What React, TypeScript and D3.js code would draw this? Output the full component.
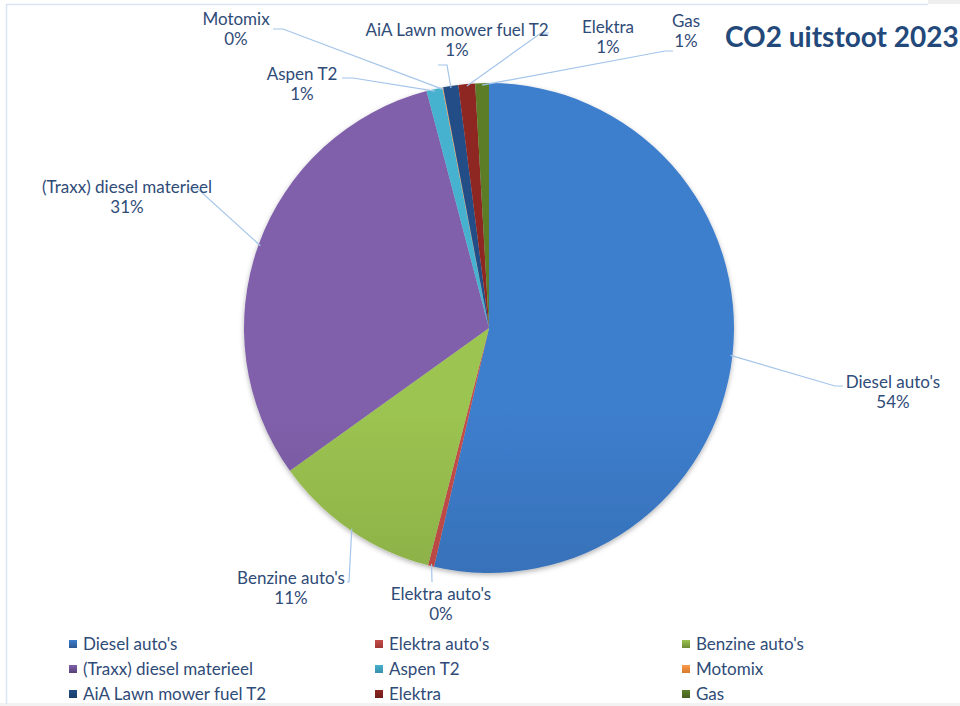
import React from "react";
import * as d3 from "d3";

const categories = [
  "Diesel auto's",
  "Elektra auto's",
  "Benzine auto's",
  "(Traxx) diesel materieel",
  "Aspen T2",
  "Motomix",
  "AiA Lawn mower fuel T2",
  "Elektra",
  "Gas",
];
const values = [53.6, 0.4, 11.1, 30.8, 1.05, 0.05, 1.0, 1.1, 0.9];
const lightColors = ["#3d7ecd", "#c44e4a", "#9cc451", "#8060aa", "#46b2cf", "#f99a4c", "#214d86", "#8e2521", "#5c7d28"];
const darkColors = ["#2c5891", "#9f3936", "#6d8a35", "#584176", "#3690a8", "#d9792c", "#183e69", "#6e1c19", "#465f1e"];
const legendTitle = "CO2 uitstoot 2023";

// label layout (positions only)
const labelLayout = [
  { cx: 893, by: 388, bend: [835, 386], end: [843, 386] },
  { cx: 441, by: 600, bend: [432, 582], end: [432, 582] },
  { cx: 291, by: 584, bend: [349, 582], end: [347, 582] },
  { cx: 127, by: 193, bend: [198, 189], end: [189, 189] },
  { cx: 302, by: 80, bend: [353, 78], end: [342, 78] },
  { cx: 236, by: 25, bend: [283, 29], end: [273, 29] },
  { cx: 457, by: 36, bend: [447, 65], end: [438, 65] },
  { cx: 608, by: 33, bend: [541, 33], end: [549, 33] },
  { cx: 686, by: 27, bend: [665, 51], end: [673, 51] },
];

const W = 960;
const H = 706;
const CX = 489;
const CY = 328;
const R = 245;
const FONT = "Lato, 'Open Sans', sans-serif";
const TEXT_COLOR = "#2f4b77";
const LEADER = "#a4c5ea";

export default function App() {
  const total = d3.sum(values);
  const pie = d3.pie<number>().sort(null).value((d) => d)(values);
  const arc = d3.arc<d3.PieArcDatum<number>>().innerRadius(0).outerRadius(R);
  const edge = d3.arc<d3.PieArcDatum<number>>().innerRadius(R - 2).outerRadius(R - 2);
  const fmt = (v: number) => `${Math.round((v / total) * 100)}%`;

  const legendCols = [69, 375, 682];
  const legendRows = [644, 669, 694];

  return (
    <svg
      width={W}
      height={H}
      style={{ position: "absolute", left: 0, top: 0, background: "#fff" }}
      fontFamily={FONT}
    >
      <defs>
        {categories.map((c, i) => (
          <linearGradient key={"g" + i} id={"grad" + i} gradientUnits="userSpaceOnUse" x1={0} y1={CY - R} x2={0} y2={CY + R}>
            <stop offset="0%" stopColor={lightColors[i]} />
            <stop offset="100%" stopColor={darkColors[i]} />
          </linearGradient>
        ))}
        {categories.map((c, i) => (
          <linearGradient key={"l" + i} id={"lg" + i} x1={0} y1={0} x2={0} y2={1}>
            <stop offset="0%" stopColor={lightColors[i]} />
            <stop offset="100%" stopColor={darkColors[i]} />
          </linearGradient>
        ))}
        <filter id="shadow" x="-20%" y="-20%" width="140%" height="140%">
          <feDropShadow dx="0" dy="2" stdDeviation="2.5" floodColor="#000" floodOpacity="0.3" />
        </filter>
      </defs>
      <rect x={0} y={0} width={W} height={H} fill="#fff" />
      <rect x={928} y={0} width={32} height={4} fill="#eeeeee" />
      <rect x={0} y={703} width={W} height={3} fill="#f2f2f2" />
      <line x1={6} y1={4.5} x2={928} y2={4.5} stroke="#dbe5f3" strokeWidth={1.5} />
      <line x1={6.5} y1={4} x2={6.5} y2={704} stroke="#dbe5f3" strokeWidth={1.5} />

      <g transform={`translate(${CX},${CY})`} filter="url(#shadow)">
        {pie.map((p, i) => (
          <path key={i} d={arc(p) || ""} fill={`url(#grad${i})`} />
        ))}
      </g>
      <g>
        {pie.map((p, i) => {
          const [ax, ay] = edge.centroid(p);
          const L = labelLayout[i];
          const pts = `${CX + ax},${CY + ay} ${L.bend[0]},${L.bend[1]} ${L.end[0]},${L.end[1]}`;
          return <polyline key={i} points={pts} fill="none" stroke={LEADER} strokeWidth={1.2} />;
        })}
      </g>
      <g fill={TEXT_COLOR} fontSize={17} textAnchor="middle">
        {pie.map((p, i) => {
          const L = labelLayout[i];
          return (
            <text key={i} x={L.cx} y={L.by}>
              <tspan x={L.cx}>{categories[i]}</tspan>
              <tspan x={L.cx} y={L.by + 20}>{fmt(values[i])}</tspan>
            </text>
          );
        })}
      </g>
      <text x={725} y={47} fontSize={28} fontWeight="bold" fill="#23497b">
        {legendTitle}
      </text>
      <g fontSize={17} fill={TEXT_COLOR}>
        {categories.map((c, i) => {
          const col = i % 3;
          const row = Math.floor(i / 3);
          const x = legendCols[col];
          const y = legendRows[row];
          return (
            <g key={i}>
              <rect x={x} y={y - 4} width={8} height={8} fill={`url(#lg${i})`} />
              <text x={x + 14} y={y + 6}>{c}</text>
            </g>
          );
        })}
      </g>
    </svg>
  );
}
